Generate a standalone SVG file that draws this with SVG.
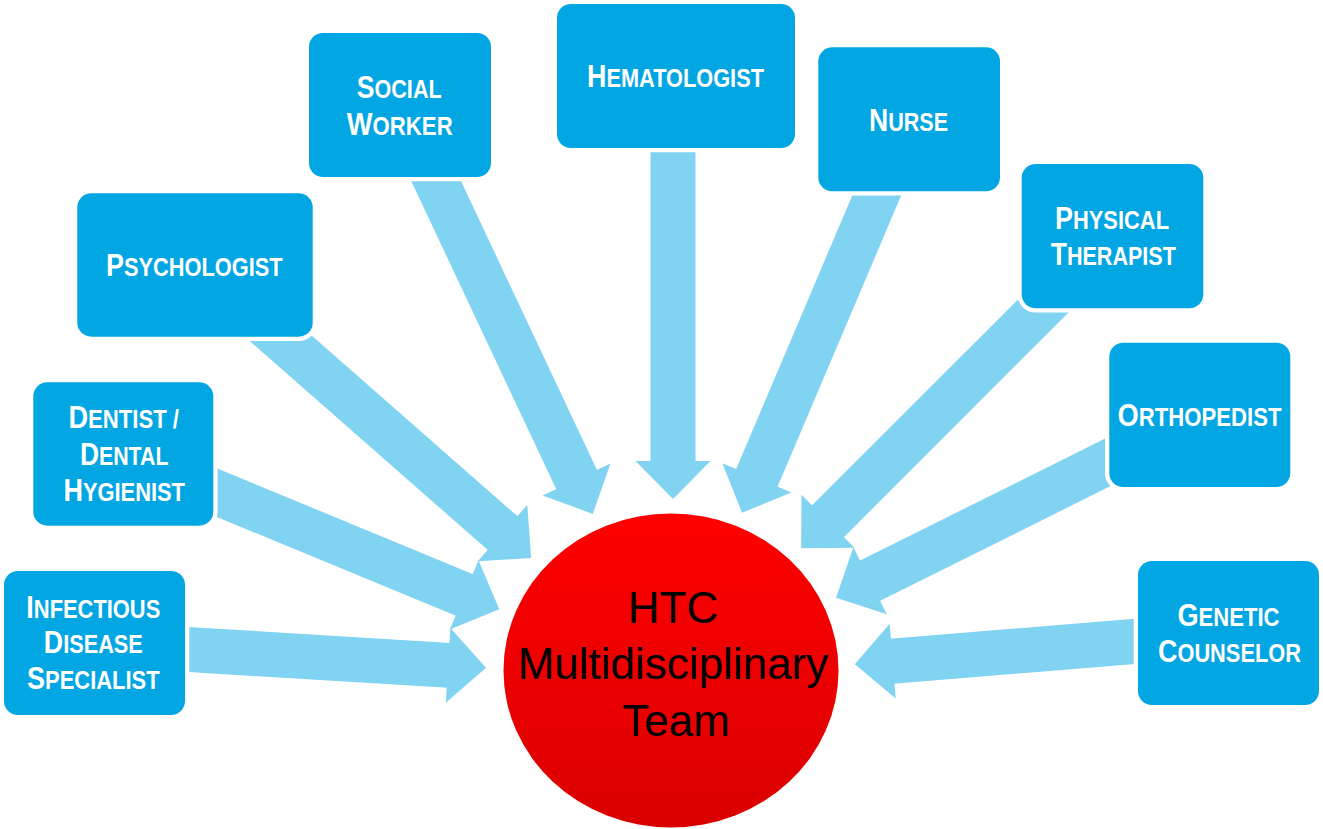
<svg xmlns="http://www.w3.org/2000/svg" width="1323" height="829" viewBox="0 0 1323 829">
<defs>
<style>
.box{fill:#02A6E2;stroke:#ffffff;stroke-width:8.6;paint-order:stroke}
.lbl{font-family:"Liberation Sans",Arial,sans-serif;font-weight:bold;fill:#ffffff;text-anchor:middle}
.b{font-size:32px}
.s{font-size:26px}
.shaft{stroke:#81D3F2;stroke-width:45;fill:none;marker-end:url(#head)}
.ctr{font-family:"Liberation Sans",Arial,sans-serif;font-size:44px;fill:#000000;text-anchor:middle}
</style>
<marker id="head" markerUnits="userSpaceOnUse" viewBox="-2 -40 42 80" markerWidth="42" markerHeight="80" refX="0" refY="0" orient="auto" overflow="visible">
<path d="M-1,-37.5 L37,0 L-1,37.5 Z" fill="#81D3F2"/>
</marker>
<linearGradient id="red" x1="0" y1="0" x2="0" y2="1">
<stop offset="0" stop-color="#FF0000"/>
<stop offset="1" stop-color="#DA0000"/>
</linearGradient>
</defs>
<rect width="1323" height="829" fill="#ffffff"/>

<g id="connectors">
<line class="shaft" x1="174" y1="648.6" x2="449.1" y2="665.4"/>
<line class="shaft" x1="199.2" y1="485.4" x2="465.1" y2="595.2"/>
<line class="shaft" x1="247.8" y1="309.3" x2="503.3" y2="533.7"/>
<line class="shaft" x1="423.7" y1="154.7" x2="577" y2="480.4"/>
<line class="shaft" x1="673" y1="140" x2="673" y2="462"/>
<line class="shaft" x1="887.4" y1="170.3" x2="756.5" y2="478.7"/>
<line class="shaft" x1="1071.2" y1="278.1" x2="827.3" y2="522"/>
<line class="shaft" x1="1137.7" y1="447.4" x2="869.2" y2="581.2"/>
<line class="shaft" x1="1160.8" y1="639.3" x2="891.7" y2="661.2"/>
</g>

<g id="infectious">
<rect class="box" x="4" y="571" width="181" height="144" rx="14"/>
<text class="lbl" transform="translate(93.3,618.3) scale(0.842,1)"><tspan class="b">I</tspan><tspan class="s">NFECTIOUS</tspan></text>
<text class="lbl" transform="translate(93.3,653.3) scale(0.835,1)"><tspan class="b">D</tspan><tspan class="s">ISEASE</tspan></text>
<text class="lbl" transform="translate(93.3,689.3) scale(0.844,1)"><tspan class="b">S</tspan><tspan class="s">PECIALIST</tspan></text>
</g>

<g id="dentist">
<rect class="box" x="33.3" y="382.3" width="180" height="143.4" rx="14"/>
<text class="lbl" transform="translate(123.7,428.3) scale(0.851,1)"><tspan class="b">D</tspan><tspan class="s">ENTIST /</tspan></text>
<text class="lbl" transform="translate(124.2,465) scale(0.822,1)"><tspan class="b">D</tspan><tspan class="s">ENTAL</tspan></text>
<text class="lbl" transform="translate(124.2,500.7) scale(0.842,1)"><tspan class="b">H</tspan><tspan class="s">YGIENIST</tspan></text>
</g>

<g id="psychologist">
<rect class="box" x="77.3" y="193.3" width="235.4" height="143.4" rx="14"/>
<text class="lbl" transform="translate(194.3,276) scale(0.839,1)"><tspan class="b">P</tspan><tspan class="s">SYCHOLOGIST</tspan></text>
</g>

<g id="social-worker">
<rect class="box" x="309" y="33" width="182" height="144" rx="14"/>
<text class="lbl" transform="translate(399.2,98.3) scale(0.832,1)"><tspan class="b">S</tspan><tspan class="s">OCIAL</tspan></text>
<text class="lbl" transform="translate(399.7,135) scale(0.854,1)"><tspan class="b">W</tspan><tspan class="s">ORKER</tspan></text>
</g>

<g id="hematologist">
<rect class="box" x="557" y="4" width="238" height="144" rx="14"/>
<text class="lbl" transform="translate(675.5,87.3) scale(0.837,1)"><tspan class="b">H</tspan><tspan class="s">EMATOLOGIST</tspan></text>
</g>

<g id="nurse">
<rect class="box" x="818.3" y="47.3" width="181.7" height="144" rx="14"/>
<text class="lbl" transform="translate(908.5,130.7) scale(0.829,1)"><tspan class="b">N</tspan><tspan class="s">URSE</tspan></text>
</g>

<g id="physical-therapist">
<rect class="box" x="1021.7" y="164" width="181.6" height="144.3" rx="14"/>
<text class="lbl" transform="translate(1112,229.3) scale(0.842,1)"><tspan class="b">P</tspan><tspan class="s">HYSICAL</tspan></text>
<text class="lbl" transform="translate(1113.3,265) scale(0.829,1)"><tspan class="b">T</tspan><tspan class="s">HERAPIST</tspan></text>
</g>

<g id="orthopedist">
<rect class="box" x="1109.3" y="342.7" width="181" height="144.3" rx="14"/>
<text class="lbl" transform="translate(1199.5,426) scale(0.852,1)"><tspan class="b">O</tspan><tspan class="s">RTHOPEDIST</tspan></text>
</g>

<g id="genetic-counselor">
<rect class="box" x="1138" y="561" width="181" height="144" rx="14"/>
<text class="lbl" transform="translate(1228.5,626) scale(0.849,1)"><tspan class="b">G</tspan><tspan class="s">ENETIC</tspan></text>
<text class="lbl" transform="translate(1229.5,662) scale(0.839,1)"><tspan class="b">C</tspan><tspan class="s">OUNSELOR</tspan></text>
</g>

<g id="htc-team">
<ellipse cx="671" cy="670.5" rx="167.5" ry="157" fill="url(#red)"/>
<text class="ctr" x="673" y="623.3">HTC</text>
<text class="ctr" x="673" y="679">Multidisciplinary</text>
<text class="ctr" x="676" y="735.7">Team</text>
</g>
</svg>
